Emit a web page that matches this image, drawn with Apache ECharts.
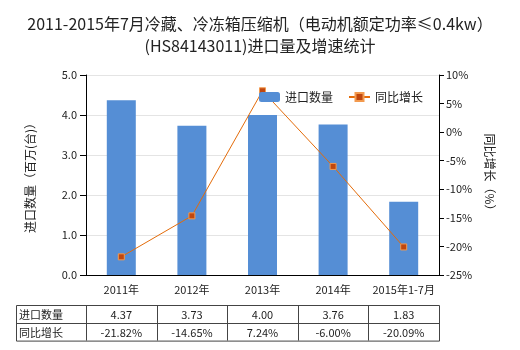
<!DOCTYPE html>
<html><head><meta charset="utf-8">
<script src="https://cdn.jsdelivr.net/npm/echarts@6/dist/echarts.min.js"></script>
<style>html,body{margin:0;padding:0;background:#fff}#c{width:520px;height:350px}</style>
</head><body><div id="c"></div>
<script>
const categories = ['2011年','2012年','2013年','2014年','2015年1-7月'];
const importQty = [4.37, 3.73, 4.00, 3.76, 1.83];
const growth = [-21.82, -14.65, 7.24, -6.00, -20.09];
const qtyLabels = ['4.37','3.73','4.00','3.76','1.83'];
const growthLabels = ['-21.82%','-14.65%','7.24%','-6.00%','-20.09%'];
const seriesNames = ['进口数量','同比增长'];

const FONT = '"Noto Sans CJK SC", "Microsoft YaHei", sans-serif';
const W = 520, H = 350;
const gridLeft = 86, gridRight = 81, gridTop = 75, gridBottom = 75;
const plotW = W - gridLeft - gridRight;
const colW = plotW / categories.length;
const tableLeft = 16, tableTop = 305, rowH = 17.8;
const lineCol = '#444';

const graphics = [];
const tableRight = gridLeft + plotW;
const tableBottom = tableTop + rowH * 2;
graphics.push({type:'rect', shape:{x:tableLeft+0.5, y:tableTop+0.5, width:tableRight-tableLeft, height:rowH*2}, style:{fill:null, stroke:lineCol, lineWidth:1}, silent:true});
graphics.push({type:'line', shape:{x1:tableLeft, y1:Math.round(tableTop+rowH)+0.5, x2:tableRight, y2:Math.round(tableTop+rowH)+0.5}, style:{stroke:lineCol, lineWidth:1}});
for (let i = 0; i < categories.length; i++) {
  const x = Math.round(gridLeft + colW*i) + 0.5;
  graphics.push({type:'line', shape:{x1:x, y1:tableTop, x2:x, y2:tableBottom}, style:{stroke:lineCol, lineWidth:1}});
}
const rows = [[seriesNames[0], qtyLabels],[seriesNames[1], growthLabels]];
rows.forEach((r, ri) => {
  const cy = tableTop + rowH*ri + rowH/2 + 1;
  graphics.push({type:'text', x: tableLeft+3, y: cy, style:{text:r[0], font:'11px '+FONT, fill:'#222', textAlign:'left', textVerticalAlign:'middle'}});
  r[1].forEach((t, ci) => {
    graphics.push({type:'text', x: gridLeft + colW*ci + colW/2, y: cy, style:{text:t, font:'11px '+FONT, fill:'#222', textAlign:'center', textVerticalAlign:'middle'}});
  });
});

const chart = echarts.init(document.getElementById('c'), null, {renderer:'canvas'});
chart.setOption({
  backgroundColor:'#fff',
  animation:false,
  textStyle:{fontFamily:FONT},
  title:{
    text:'2011-2015年7月冷藏、冷冻箱压缩机（电动机额定功率≤0.4kw）\n(HS84143011)进口量及增速统计',
    left:'center', top:8,
    textStyle:{fontSize:16, fontWeight:'normal', color:'#222', lineHeight:22, fontFamily:FONT}
  },
  legend:{
    left:254, top:86, itemWidth:21, itemHeight:10, itemGap:15,
    textStyle:{fontSize:12, color:'#222'},
    data:[{name:seriesNames[0]},{name:seriesNames[1]}]
  },
  grid:{left:gridLeft, right:gridRight, top:gridTop, bottom:gridBottom},
  xAxis:{
    type:'category', data:categories,
    axisLine:{lineStyle:{color:'#000'}},
    axisTick:{alignWithLabel:true, lineStyle:{color:'#000'}, length:4},
    axisLabel:{color:'#222', fontSize:11, margin:9, interval:0}
  },
  yAxis:[{
    type:'value', min:0, max:5, interval:1,
    name:'进口数量（百万(台)）', nameLocation:'middle', nameGap:50, nameRotate:90,
    nameTextStyle:{fontSize:12, color:'#222'},
    axisLine:{show:true, lineStyle:{color:'#000'}},
    axisTick:{show:true, length:6, lineStyle:{color:'#000'}},
    axisLabel:{color:'#222', fontSize:11, margin:9, formatter:v=>v.toFixed(1)},
    splitLine:{lineStyle:{color:'#e4e4e4'}}
  },{
    type:'value', min:-25, max:10, interval:5,
    name:'同比增长（%）', nameLocation:'middle', nameGap:45, nameRotate:-90,
    nameTextStyle:{fontSize:12, color:'#222'},
    axisLine:{show:true, lineStyle:{color:'#000'}},
    axisTick:{show:true, length:5, lineStyle:{color:'#000'}},
    axisLabel:{color:'#222', fontSize:11, margin:7, formatter:v=>v+'%'},
    splitLine:{show:false}
  }],
  series:[{
    name:seriesNames[0], type:'bar', data:importQty, barWidth:29,
    itemStyle:{color:'#558ED5'}
  },{
    name:seriesNames[1], type:'line', yAxisIndex:1, data:growth,
    symbol:'rect', symbolSize:6,
    lineStyle:{color:'#E46C0A', width:1},
    itemStyle:{color:'#C0470F', borderColor:'#F39A4E', borderWidth:1}
  }],
  graphic:graphics
});
</script></body></html>
